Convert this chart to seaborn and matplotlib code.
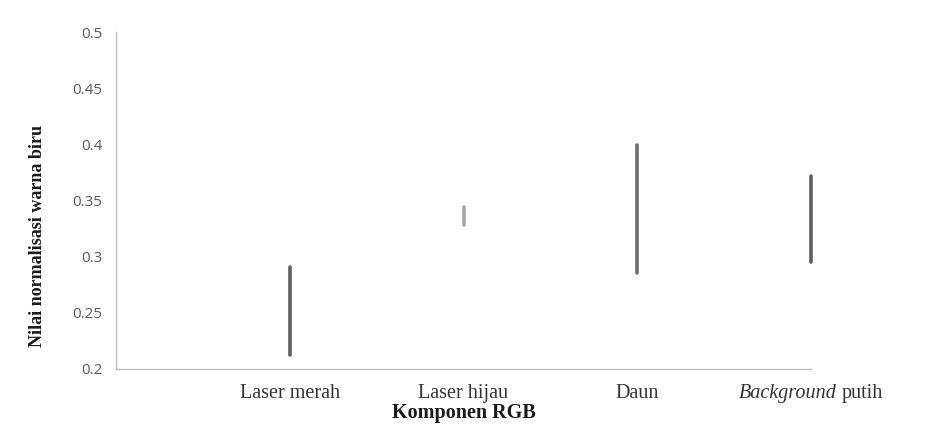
import matplotlib
matplotlib.use("Agg")
import matplotlib.pyplot as plt
import seaborn as sns
import pandas as pd
from matplotlib.offsetbox import TextArea, HPacker, AnnotationBbox

# nilai minimum dan maksimum tiap komponen
kategori = ["Laser merah", "Laser hijau", "Daun", "Background putih"]
nilai_min = [0.2125, 0.328, 0.285, 0.295]
nilai_max = [0.291, 0.344, 0.399, 0.372]
warna = ["#5f5f5f", "#a6a6a6", "#6f6f6f", "#5f5f5f"]

sns.set_theme(style="white")
plt.rcParams["font.family"] = ["Liberation Serif", "DejaVu Serif"]

pos = list(range(1, len(kategori) + 1))
df = pd.DataFrame({
    "kategori": kategori * 2,
    "pos": pos * 2,
    "nilai": nilai_min + nilai_max,
})

f = plt.figure(figsize=(9.36, 4.45), dpi=100)
ax = f.add_axes([0.124, 0.171, 0.7425, 0.757])

sns.lineplot(data=df, x="pos", y="nilai", hue="kategori", units="kategori",
             estimator=None, palette=dict(zip(kategori, warna)),
             linewidth=2.6, legend=False, ax=ax)
for ln in ax.lines:
    ln.set_clip_on(False)

ax.set_xlim(0, 4)
ax.set_ylim(0.2, 0.5)
ax.set_xticks(pos)
ax.set_xticklabels(kategori[:3] + [""], fontsize=14.5, color="#333333")
ax.set_yticks([0.2, 0.25, 0.3, 0.35, 0.4, 0.45, 0.5])
ax.set_yticklabels(["0.2", "0.25", "0.3", "0.35", "0.4", "0.45", "0.5"],
                   family="Open Sans", fontsize=11, color="#595959")
ax.tick_params(axis="both", length=4, width=1, color="#bfbfbf", direction="out")
ax.tick_params(axis="x", pad=7)
ax.tick_params(axis="y", pad=6)

# label kategori terakhir: "Background" miring + "putih"
lbl = HPacker(children=[
    TextArea("Background", textprops=dict(fontsize=14.5, style="italic", color="#333333")),
    TextArea("putih", textprops=dict(fontsize=14.5, color="#333333")),
], pad=0, sep=4, align="baseline")
ab = AnnotationBbox(lbl, (4, 0), xycoords=ax.get_xaxis_transform(),
                    xybox=(0, -11), boxcoords="offset points",
                    box_alignment=(0.5, 1.0), frameon=False, annotation_clip=False)
ax.add_artist(ab)

for s in ["top", "right"]:
    ax.spines[s].set_visible(False)
for s in ["left", "bottom"]:
    ax.spines[s].set_color("#bfbfbf")
    ax.spines[s].set_linewidth(1)

ax.set_xlabel("Komponen RGB", fontsize=14.5, fontweight="bold", color="#1a1a1a", labelpad=0)
ax.set_ylabel("Nilai normalisasi warna biru", fontsize=13, fontweight="bold", color="#1a1a1a")
ax.yaxis.set_label_coords(-0.101, 0.395)

f.savefig("out.png", dpi=100)
